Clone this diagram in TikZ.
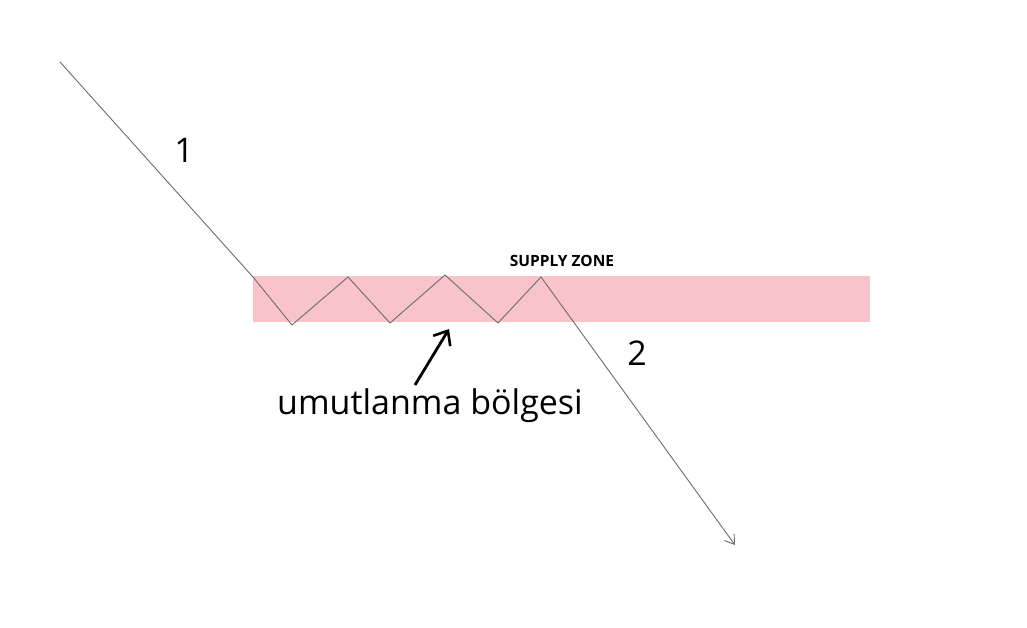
\documentclass[tikz,border=0pt]{standalone}
\usepackage{fontspec}
\setmainfont{Open Sans}
\usetikzlibrary{arrows.meta}
\begin{document}
\begin{tikzpicture}[x=1pt,y=-1pt,
  price/.style={draw=gray!85!black,line width=0.9pt},
  lbl/.style={font=\fontsize{34}{36}\selectfont,inner sep=0}]
\useasboundingbox (0,0) rectangle (1027,628);
\fill[fill={rgb,255:red,248;green,195;blue,201}] (253,276) rectangle (870,322);
\coordinate (s) at (60,62);
\coordinate (a) at (253,277);
\coordinate (b) at (292,325);
\coordinate (c) at (348,277);
\coordinate (d) at (390,323);
\coordinate (e) at (445,275);
\coordinate (f) at (498,323);
\coordinate (g) at (541,277);
\coordinate (h) at (735,545);
\draw[price,-{Straight Barb[length=9pt,width=12pt]}] (s)--(a)--(b)--(c)--(d)--(e)--(f)--(g)--(h);
\node[lbl] (n1) at (184,150) {1};
\node[lbl] (n2) at (637,353) {2};
\node[font=\bfseries\fontsize{15.5}{17}\selectfont] (sz) at (562,261) {SUPPLY ZONE};
\node[lbl] (um) at (430,406) {umutlanma bölgesi};
\coordinate (p) at (415,385);
\coordinate (q) at (449,329);
\draw[line width=2.8pt,-{Straight Barb[length=12pt,width=20pt,line width=2.6pt]}] (p)--(q);
\end{tikzpicture}
\end{document}
